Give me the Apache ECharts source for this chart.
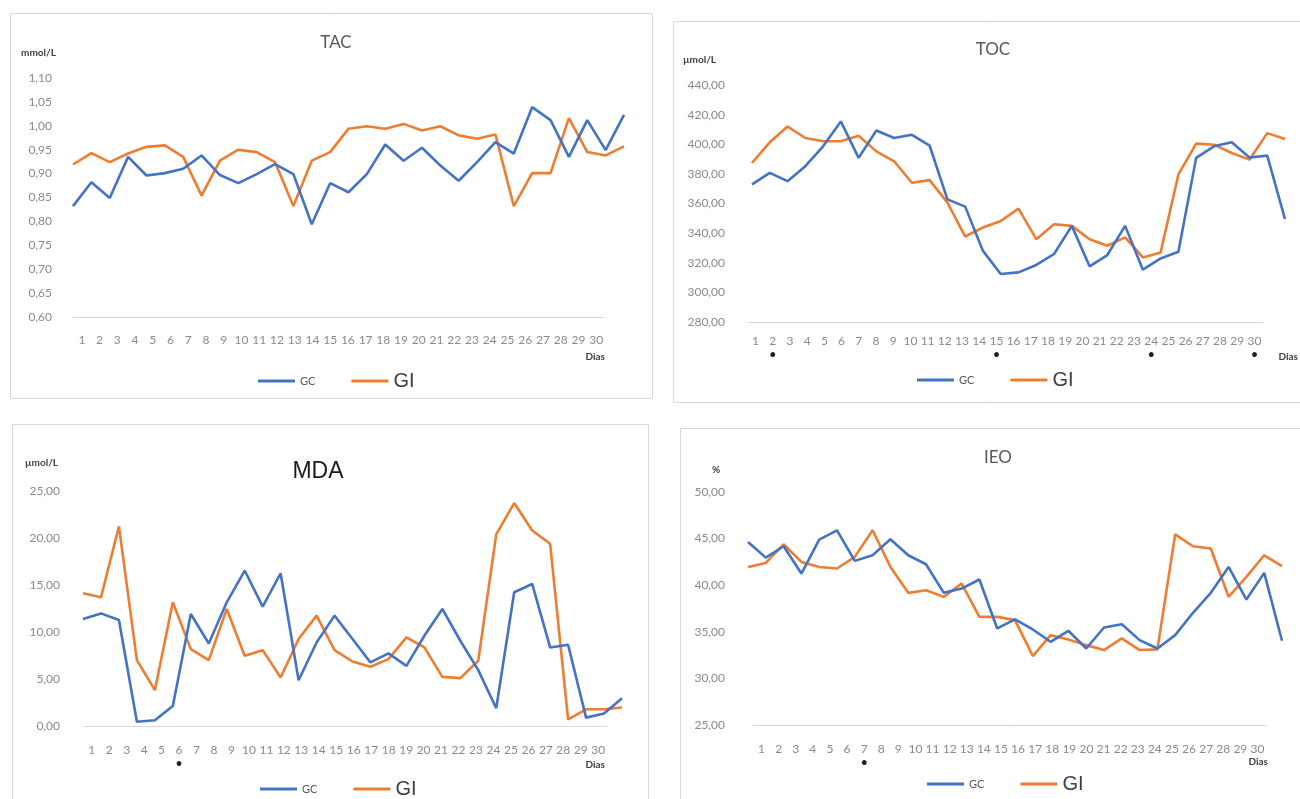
<!DOCTYPE html>
<html>
<head>
<meta charset="utf-8">
<script src="https://cdn.jsdelivr.net/npm/echarts@6/dist/echarts.min.js"></script>
<style>
html,body{margin:0;padding:0;background:#fff;}
#chart{width:1300px;height:799px;}
</style>
</head>
<body>
<div id="chart"></div>
<script>
// ---- tick labels / categories ----
const days = ['1','2','3','4','5','6','7','8','9','10','11','12','13','14','15','16','17','18','19','20','21','22','23','24','25','26','27','28','29','30'];
const points = ['1','2','3','4','5','6','7','8','9','10','11','12','13','14','15','16','17','18','19','20','21','22','23','24','25','26','27','28','29','30','31'];
const seriesNames = ['GC', 'GI'];

// ---- TAC (mmol/L) ----
const tacGC = [0.832,0.882,0.849,0.935,0.896,0.901,0.910,0.938,0.897,0.880,0.899,0.920,0.899,0.794,0.880,0.861,0.899,0.961,0.927,0.954,0.917,0.885,0.924,0.966,0.942,1.039,1.012,0.935,1.012,0.949,1.023];
const tacGI = [0.919,0.943,0.924,0.942,0.956,0.959,0.935,0.854,0.927,0.950,0.945,0.924,0.832,0.927,0.945,0.994,0.999,0.994,1.004,0.990,0.999,0.980,0.973,0.982,0.832,0.901,0.901,1.016,0.945,0.938,0.957];

// ---- TOC (µmol/L) ----
const tocGC = [372.9,380.7,375.1,385.2,398.6,415.4,390.8,409.3,404.2,406.4,399.0,362.8,357.9,328.0,312.4,313.5,318.5,325.9,344.9,317.6,325.2,344.9,315.3,322.9,327.4,390.8,398.6,401.3,391.0,392.3,349.4];
const tocGI = [387.4,401.3,412.0,404.2,402.0,402.0,405.8,395.2,388.5,374.0,375.8,360.6,337.7,343.8,348.2,356.5,335.9,346.0,344.9,335.9,331.5,337.1,323.6,327.0,379.6,400.4,399.7,394.1,389.6,407.5,403.5];

// ---- MDA (µmol/L) ----
const mdaGC = [11.38,11.98,11.27,0.46,0.61,2.13,11.91,8.78,13.16,16.54,12.70,16.25,4.87,8.89,11.74,9.25,6.76,7.72,6.40,9.60,12.45,9.07,5.94,1.89,14.23,15.11,8.36,8.64,0.89,1.32,2.95];
const mdaGI = [14.12,13.69,21.23,7.01,3.81,13.16,8.18,7.01,12.45,7.47,8.07,5.16,9.25,11.74,8.07,6.86,6.30,7.11,9.43,8.36,5.23,5.09,6.94,20.38,23.72,20.80,19.38,0.71,1.78,1.78,1.96];

// ---- IEO (%) ----
const ieoGC = [44.64,42.96,44.18,41.25,44.90,45.89,42.61,43.21,44.93,43.21,42.25,39.18,39.64,40.61,35.36,36.33,35.25,33.93,35.11,33.21,35.46,35.82,34.11,33.21,34.64,37.04,39.18,41.96,38.46,41.32,34.04];
const ieoGI = [41.96,42.39,44.39,42.50,41.96,41.79,43.04,45.89,41.96,39.18,39.46,38.75,40.18,36.60,36.60,36.25,32.40,34.64,34.18,33.57,33.04,34.29,33.04,33.11,45.46,44.18,43.93,38.75,40.89,43.21,42.04];

// ---- starred days ----
const tacStars = [];
const tocStars = ['2','15','24','30'];
const mdaStars = ['6'];
const ieoStars = ['7'];

// ---- panel layout (positions/styles) ----
const panels = [
  { title:'TAC', unit:'mmol/L', gc:tacGC, gi:tacGI, stars:tacStars, min:0.60, max:1.10, interval:0.05,
    dataL:73, dataW:551, labL:73, labW:532, top:78, h:239, yMargin:21, xMargin:17,
    box:[10,13,642,385], titleX:336, titleY:43, titleSize:17, titleColor:'#595959', titleFont:'Lato, sans-serif',
    unitX:21, unitY:53, diasX:605, diasY:357, legL:253, legT:366 },
  { title:'TOC', unit:'µmol/L', gc:tocGC, gi:tocGI, stars:tocStars, min:280, max:440, interval:20,
    dataL:752, dataW:533, labL:747, labW:516, top:85, h:237, yMargin:22, xMargin:13,
    box:[673,21,640,381], titleX:993, titleY:50, titleSize:17, titleColor:'#595959', titleFont:'Lato, sans-serif',
    unitX:683, unitY:60, diasX:1298, diasY:357, legL:912, legT:365 },
  { title:'MDA', unit:'µmol/L', gc:mdaGC, gi:mdaGI, stars:mdaStars, min:0, max:25, interval:5,
    dataL:83, dataW:539, labL:83, labW:524, top:491, h:235, yMargin:23, xMargin:18,
    box:[12,424,636,390], titleX:318, titleY:472, titleSize:23, titleColor:'#1a1a1a', titleFont:'"Liberation Sans", Arial, sans-serif',
    unitX:25, unitY:463, diasX:605, diasY:765, legL:255, legT:774 },
  { title:'IEO', unit:'%', gc:ieoGC, gi:ieoGI, stars:ieoStars, min:25, max:50, interval:5,
    dataL:748, dataW:534, labL:753, labW:513, top:492, h:233, yMargin:28, xMargin:18,
    box:[680,428,640,390], titleX:998, titleY:458, titleSize:17, titleColor:'#595959', titleFont:'Lato, sans-serif',
    unitX:712, unitY:470, diasX:1268, diasY:762, legL:922, legT:769 }
];

const BLUE = '#4472C4', ORANGE = '#ED7D31';
const FONT = 'Lato, "Open Sans", sans-serif';

const grid = [], xAxis = [], yAxis = [], series = [], legend = [], graphic = [];

panels.forEach((p, i) => {
  const gData = i * 2, gLab = i * 2 + 1;
  grid.push({ left:p.dataL, top:p.top, width:p.dataW, height:p.h });
  grid.push({ left:p.labL, top:p.top, width:p.labW, height:p.h });
  const fmt = v => Number(v).toFixed(2).replace('.', ',');
  // data axes (hidden)
  xAxis.push({ type:'category', gridIndex:gData, data:points, boundaryGap:false, show:false });
  yAxis.push({ type:'value', gridIndex:gData, min:p.min, max:p.max, interval:p.interval, show:false });
  // visible label axes
  xAxis.push({ type:'category', gridIndex:gLab, data:days, boundaryGap:true,
    axisLine:{ show:true, lineStyle:{ color:'#d9d9d9', width:1 } },
    axisTick:{ show:false },
    axisLabel:{ interval:0, margin:p.xMargin, fontSize:12, color:'#8a8a8a', fontFamily:FONT,
      formatter: v => p.stars.includes(v) ? v + '\n{s|•}' : v,
      rich:{ s:{ fontSize:13, color:'#222', lineHeight:16, fontFamily:FONT } } },
    splitLine:{ show:false } });
  yAxis.push({ type:'value', gridIndex:gLab, min:p.min, max:p.max, interval:p.interval,
    axisLine:{ show:false }, axisTick:{ show:false }, splitLine:{ show:false },
    axisLabel:{ margin:p.yMargin, fontSize:12, color:'#8a8a8a', fontFamily:FONT, formatter:fmt } });

  series.push({ name:'GC', type:'line', xAxisIndex:gData, yAxisIndex:gData, data:p.gc,
    symbol:'none', lineStyle:{ width:2.6, color:BLUE }, itemStyle:{ color:BLUE }, z:3 });
  series.push({ name:'GI', type:'line', xAxisIndex:gData, yAxisIndex:gData, data:p.gi,
    symbol:'none', lineStyle:{ width:2.6, color:ORANGE }, itemStyle:{ color:ORANGE }, z:2 });

  legend.push({ left:p.legL, top:p.legT, orient:'horizontal', itemWidth:37, itemHeight:3, itemGap:36,
    icon:'rect', selectedMode:false,
    data:[ { name:'GC', textStyle:{ fontSize:11, color:'#595959', fontFamily:FONT } },
           { name:'GI', textStyle:{ fontSize:20, color:'#404040', fontFamily:'"Liberation Sans", Arial, sans-serif' } } ] });

  graphic.push({ type:'rect', shape:{ x:p.box[0]+0.5, y:p.box[1]+0.5, width:p.box[2], height:p.box[3] },
    style:{ fill:'none', stroke:'#d9d9d9', lineWidth:1 }, z:-10, silent:true });
  graphic.push({ type:'text', x:p.titleX, y:p.titleY,
    style:{ text:p.title, fill:p.titleColor, font:'normal ' + p.titleSize + 'px ' + p.titleFont,
      textAlign:'center', textVerticalAlign:'middle' } });
  graphic.push({ type:'text', x:p.unitX, y:p.unitY,
    style:{ text:p.unit, fill:'#404040', font:'bold 10px ' + FONT, textAlign:'left', textVerticalAlign:'middle' } });
  graphic.push({ type:'text', x:p.diasX, y:p.diasY,
    style:{ text:'Dias', fill:'#404040', font:'bold 10px ' + FONT, textAlign:'right', textVerticalAlign:'middle' } });
});

const chart = echarts.init(document.getElementById('chart'), null, { renderer:'canvas' });
chart.setOption({
  backgroundColor:'#ffffff',
  animation:false,
  grid, xAxis, yAxis, series, legend, graphic
});
</script>
</body>
</html>
